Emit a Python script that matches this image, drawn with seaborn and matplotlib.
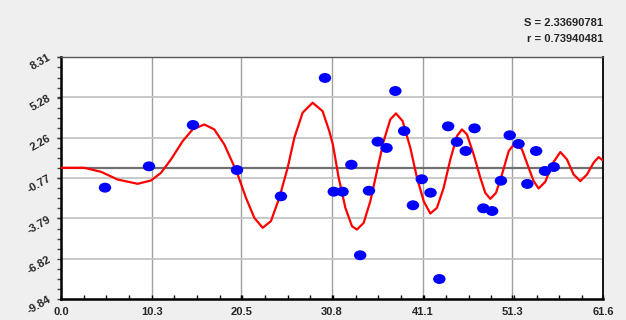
import matplotlib
matplotlib.use("Agg")
import matplotlib.pyplot as plt
import matplotlib.path as mpath
from matplotlib.transforms import Affine2D
from matplotlib.ticker import FixedLocator, AutoMinorLocator
import seaborn as sns
import pandas as pd

# observed data points
x_data = [5, 10, 15, 20, 25, 30, 31, 32, 33, 34, 35, 36, 37, 38, 39, 40, 41, 42,
          43, 44, 45, 46, 47, 48, 49, 50, 51, 52, 53, 54, 55, 56]
y_data = [-1.49, 0.11, 3.21, -0.17, -2.14, 6.74, -1.79, -1.79, 0.23, -6.56, -1.72,
          1.96, 1.49, 5.76, 2.76, -2.81, -0.86, -1.87, -8.34, 3.11, 1.94, 1.26,
          2.96, -3.04, -3.24, -0.97, 2.44, 1.79, -1.21, 1.26, -0.24, 0.06]

# fitted curve
x_fit = [0.0, 2.65, 4.55, 6.44, 8.71, 10.23, 11.36, 12.5, 13.83, 14.96, 16.29, 17.42,
         18.56, 19.5, 20.08, 21.02, 21.97, 22.92, 23.86, 24.81, 25.76, 26.52, 27.46,
         28.6, 29.73, 30.49, 30.9, 31.56, 32.32, 33.07, 33.64, 34.4, 35.16, 35.91,
         36.67, 37.43, 38.07, 38.83, 39.7, 40.46, 41.22, 41.97, 42.73, 43.49, 44.25,
         45.0, 45.57, 46.14, 46.9, 47.66, 48.22, 48.79, 49.44, 50.12, 50.88, 51.63,
         52.39, 53.15, 53.72, 54.28, 55.04, 55.8, 56.75, 57.5, 58.26, 59.02, 59.78,
         60.53, 61.1, 61.6]
y_fit = [0.0, 0.0, -0.3, -0.88, -1.2, -0.95, -0.38, 0.63, 2.0, 2.88, 3.25, 2.88,
         1.75, 0.38, -0.5, -2.25, -3.75, -4.5, -4.0, -2.25, 0.0, 2.25, 4.13,
         4.88, 4.25, 2.75, 1.75, -0.75, -3.0, -4.38, -4.63, -4.13, -2.5, -0.25,
         2.0, 3.63, 4.08, 3.5, 1.5, -0.75, -2.5, -3.43, -3.0, -1.5, 0.63,
         2.38, 2.88, 2.5, 1.0, -0.75, -1.88, -2.33, -1.88, -0.5, 1.25, 1.88,
         1.38, 0.0, -1.0, -1.55, -1.05, 0.25, 1.18, 0.63, -0.5, -1.0, -0.5,
         0.38, 0.8, 0.55]

x_ticks = [0.0, 10.3, 20.5, 30.8, 41.1, 51.3, 61.6]
y_ticks = [-9.84, -6.82, -3.79, -0.77, 2.26, 5.28, 8.31]
stats_text = ["S = 2.33690781", "r = 0.73940481"]

sns.set_theme(style="white")
plt.rcParams['font.family'] = ['Liberation Sans', 'DejaVu Sans']

fig = plt.figure(figsize=(6.26, 3.2), dpi=100, facecolor="#efefef")
ax = fig.add_axes([61 / 626, 1 - 299 / 320, 542 / 626, 242 / 320])
ax.set_facecolor("white")

ax.set_xlim(x_ticks[0], x_ticks[-1])
ax.set_ylim(y_ticks[0], y_ticks[-1])

# grid
for xv in x_ticks[1:-1]:
    ax.axvline(xv, color="#a0a0a0", lw=1.0, zorder=0)
for yv in y_ticks[1:-1]:
    ax.axhline(yv, color="#c4c4c4", lw=1.3, zorder=0)
ax.axhline(0, color="#707070", lw=1.6, zorder=1)

df_fit = pd.DataFrame({"x": x_fit, "y": y_fit})
sns.lineplot(data=df_fit, x="x", y="y", ax=ax, color="#ff0000", lw=1.6,
             sort=False, zorder=3, solid_joinstyle="round")

ellipse = mpath.Path.unit_circle().transformed(Affine2D().scale(1.25, 1.0))
df_pts = pd.DataFrame({"x": x_data, "y": y_data})
sns.scatterplot(data=df_pts, x="x", y="y", ax=ax, marker=ellipse, s=80,
                color="#0000ff", edgecolor="none", linewidth=0, zorder=4)

ax.set_xlabel("")
ax.set_ylabel("")
ax.xaxis.set_major_locator(FixedLocator(x_ticks))
ax.yaxis.set_major_locator(FixedLocator(y_ticks))
ax.set_xticklabels([f"{v:.1f}" for v in x_ticks], fontweight="bold", fontsize=8)
ax.set_yticklabels([f"{v:.2f}" for v in y_ticks], fontweight="bold", fontsize=8,
                   rotation=30, rotation_mode="anchor", ha="right", va="center")
ax.xaxis.set_minor_locator(AutoMinorLocator(4))
ax.yaxis.set_minor_locator(AutoMinorLocator(4))
ax.tick_params(axis="x", which="both", direction="in", length=3, width=1,
               color="black", pad=6, bottom=True)
ax.tick_params(axis="y", which="both", direction="out", length=3, width=1,
               color="#444444", pad=5, left=True)

for side in ["left", "bottom"]:
    ax.spines[side].set_color("black")
    ax.spines[side].set_linewidth(1.8)
ax.spines["right"].set_color("black")
ax.spines["right"].set_linewidth(1.3)
ax.spines["top"].set_color("#555555")
ax.spines["top"].set_linewidth(1.0)
for s in ax.spines.values():
    s.set_visible(True)

fig.text(603 / 626, 1 - 23 / 320, stats_text[0], ha="right", va="center",
         fontsize=8, fontweight="bold")
fig.text(603 / 626, 1 - 39 / 320, stats_text[1], ha="right", va="center",
         fontsize=8, fontweight="bold")

fig.savefig("out.png", dpi=100, facecolor=fig.get_facecolor())
